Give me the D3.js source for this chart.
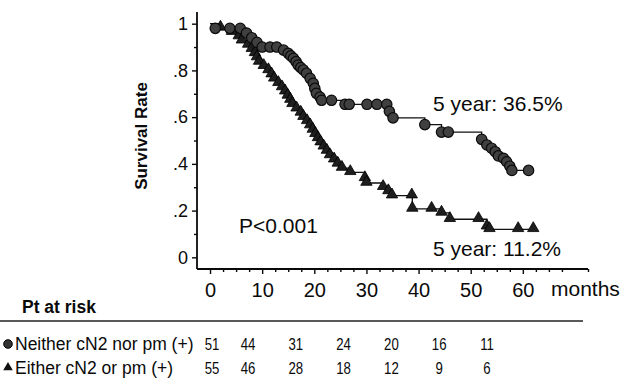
<!DOCTYPE html>
<html>
<head>
<meta charset="utf-8">
<script src="https://d3js.org/d3.v7.min.js"></script>
<style>
  body { margin: 0; background: #fff; }
  svg { display: block; font-family: "Liberation Sans", Arial, sans-serif; }
</style>
</head>
<body>
<div class="chart"></div>
<script>
// Kaplan-Meier steps: [month, survival]
const neitherSteps = [
  [0, 1], [1.0, 0.98], [3.8, 0.98], [5.8, 0.98], [7.0, 0.96], [8.0, 0.94], [9.0, 0.92],
  [10.0, 0.90], [11.5, 0.90], [12.8, 0.90], [14.1, 0.887], [15.0, 0.873], [15.5, 0.862],
  [16.0, 0.852], [16.5, 0.838], [16.9, 0.823], [17.4, 0.812], [17.9, 0.802], [18.5, 0.788],
  [19.2, 0.766], [19.8, 0.745], [20.1, 0.723], [20.4, 0.702], [21.1, 0.686], [21.4, 0.672],
  [23.3, 0.672], [25.9, 0.655], [26.7, 0.655], [30.1, 0.655], [32.0, 0.655], [33.9, 0.655],
  [34.4, 0.625], [35.1, 0.597], [41.2, 0.568], [44.4, 0.536], [45.7, 0.536], [52.1, 0.505],
  [53.1, 0.481], [54.0, 0.467], [54.7, 0.452], [55.3, 0.434], [56.3, 0.424], [56.9, 0.409],
  [57.5, 0.39], [57.9, 0.372], [61.1, 0.372]
];
const eitherSteps = [
  [0, 1], [2.0, 0.982], [4.2, 0.964], [5.5, 0.945], [6.1, 0.927], [7.3, 0.909], [8.0, 0.891],
  [8.6, 0.873], [9.0, 0.855], [9.4, 0.836], [10.3, 0.818], [11.2, 0.80], [11.8, 0.782],
  [12.3, 0.764], [13.1, 0.745], [13.8, 0.727], [14.4, 0.709], [14.9, 0.691], [15.4, 0.673],
  [15.8, 0.655], [16.6, 0.636], [17.4, 0.618], [17.9, 0.60], [18.6, 0.582], [19.2, 0.564],
  [19.7, 0.545], [20.2, 0.527], [20.7, 0.509], [21.2, 0.491], [21.8, 0.473], [22.4, 0.455],
  [23.0, 0.436], [23.8, 0.418], [24.5, 0.40], [25.3, 0.382], [26.9, 0.364], [29.7, 0.338],
  [30.0, 0.318], [33.2, 0.30], [34.2, 0.282], [34.9, 0.264], [38.7, 0.264], [38.8, 0.207],
  [42.5, 0.207], [44.4, 0.19], [46.0, 0.163], [51.5, 0.163], [53.1, 0.131], [53.6, 0.12],
  [59.1, 0.12], [62.0, 0.12]
];

const xTicks = [0, 10, 20, 30, 40, 50, 60];
const yTicks = [0, 0.2, 0.4, 0.6, 0.8, 1];
const yTickLabels = ["0", ".2", ".4", ".6", ".8", "1"];

const riskMonths = [0, 10, 20, 30, 40, 50, 60];
const riskNeither = [51, 44, 31, 24, 20, 16, 11];
const riskEither = [55, 46, 28, 18, 12, 9, 6];
const groupNames = ["Neither cN2 nor pm (+)", "Either cN2 or pm (+)"];

const width = 621, height = 386;
const svg = d3.select(".chart").append("svg")
  .attr("width", width)
  .attr("height", height);

const x = d3.scaleLinear().domain([-2.5, 72.5]).range([197, 588]);
const y = d3.scaleLinear().domain([-0.05, 1.05]).range([269, 12]);

// axes
const xAxis = d3.axisBottom(x).tickValues(xTicks).tickSize(5).tickPadding(9).tickFormat(d3.format("d"));
const xMinor = d3.axisBottom(x).tickValues(d3.range(0, 73, 2.5).filter(d => d % 10 !== 0)).tickSize(3).tickFormat("");
const yAxis = d3.axisLeft(y).tickValues(yTicks).tickSize(5).tickPadding(4).tickFormat((d, i) => yTickLabels[i]);
const yMinor = d3.axisLeft(y).tickValues([0.1, 0.3, 0.5, 0.7, 0.9]).tickSize(3).tickFormat("");

function styleAxis(g, fs) {
  g.select(".domain").attr("stroke", "#0a0a0a").attr("stroke-width", 1.8);
  g.selectAll(".tick line").attr("stroke", "#0a0a0a").attr("stroke-width", 1.4);
  g.selectAll("text").attr("font-size", fs).attr("fill", "#0a0a0a").attr("font-family", "Liberation Sans, Arial, sans-serif");
}

svg.append("g").attr("transform", `translate(0,${y.range()[0]})`).call(xMinor).call(g => styleAxis(g, 0)).select(".domain").remove();
svg.append("g").attr("transform", `translate(${x.range()[0]},0)`).call(yMinor).call(g => styleAxis(g, 0)).select(".domain").remove();
svg.append("g").attr("transform", `translate(0,${y.range()[0]})`).call(xAxis)
  .call(g => styleAxis(g, 20))
  .call(g => g.select(".domain").attr("d", `M${x.range()[0]},0H${x.range()[1]}`));
svg.append("g").attr("transform", `translate(${x.range()[0]},0)`).call(yAxis)
  .call(g => styleAxis(g, 18))
  .call(g => g.select(".domain").attr("d", `M0,${y.range()[0]}V${y.range()[1]}`));

svg.append("text")
  .attr("transform", "translate(147,136) rotate(-90)")
  .attr("text-anchor", "middle")
  .attr("font-size", 17)
  .attr("font-weight", "bold")
  .attr("fill", "#0a0a0a")
  .text("Survival Rate");

svg.append("text").attr("x", 551).attr("y", 296).attr("font-size", 21).attr("fill", "#0a0a0a").text("months");

// curves
const line = d3.line().x(d => x(d[0])).y(d => y(d[1])).curve(d3.curveStepAfter);
[eitherSteps, neitherSteps].forEach(s => {
  svg.append("path").datum(s)
    .attr("fill", "none")
    .attr("stroke", "#111")
    .attr("stroke-width", 1.3)
    .attr("d", line);
});

const tri = d3.symbol().type(d3.symbolTriangle).size(56);
svg.append("g").selectAll("path")
  .data(eitherSteps.slice(1))
  .join("path")
  .attr("transform", d => `translate(${x(d[0])},${y(d[1]) - 1})`)
  .attr("d", tri)
  .attr("fill", "#1e1e1e")
  .attr("stroke", "#000")
  .attr("stroke-width", 0.8);

svg.append("g").selectAll("circle")
  .data(neitherSteps.slice(1))
  .join("circle")
  .attr("cx", d => x(d[0]))
  .attr("cy", d => y(d[1]))
  .attr("r", 5.2)
  .attr("fill", "#404040")
  .attr("stroke", "#0a0a0a")
  .attr("stroke-width", 1.2);

// annotations
svg.append("text").attr("x", 433).attr("y", 111).attr("font-size", 21).attr("fill", "#0a0a0a").text("5 year: 36.5%");
svg.append("text").attr("x", 433).attr("y", 256).attr("font-size", 21).attr("fill", "#0a0a0a").text("5 year: 11.2%");
svg.append("text").attr("x", 239).attr("y", 233).attr("font-size", 21).attr("fill", "#0a0a0a").text("P<0.001");

// at-risk table
svg.append("text").attr("x", 22).attr("y", 313).attr("font-size", 17.5).attr("font-weight", "bold").attr("fill", "#0a0a0a").text("Pt at risk");
svg.append("line").attr("x1", 0).attr("x2", 583).attr("y1", 321).attr("y2", 321).attr("stroke", "#222").attr("stroke-width", 1.6);

const riskX = d3.scaleLinear().domain([10, 60]).range([248, 487]);
const colX = m => (m === 0 ? x(0) + 2 : riskX(m));
const rows = [
  { name: groupNames[0], values: riskNeither, yPos: 350, mark: "circle" },
  { name: groupNames[1], values: riskEither, yPos: 374, mark: "triangle" }
];
rows.forEach(r => {
  if (r.mark === "circle") {
    svg.append("circle").attr("cx", 8).attr("cy", r.yPos - 6).attr("r", 4.3)
      .attr("fill", "#333").attr("stroke", "#000").attr("stroke-width", 1);
  } else {
    svg.append("path").attr("transform", `translate(8,${r.yPos - 6.5})`)
      .attr("d", d3.symbol().type(d3.symbolTriangle).size(40)).attr("fill", "#111");
  }
  svg.append("text").attr("x", 15).attr("y", r.yPos).attr("font-size", 17.5).attr("fill", "#0a0a0a").text(r.name);
  svg.append("g").selectAll("g")
    .data(r.values)
    .join("g")
    .attr("transform", (d, i) => `translate(${colX(riskMonths[i])},${r.yPos}) scale(0.8,1)`)
    .append("text")
    .attr("text-anchor", "middle")
    .attr("font-size", 16.5)
    .attr("fill", "#0a0a0a")
    .text(d => d);
});
</script>
</body>
</html>
